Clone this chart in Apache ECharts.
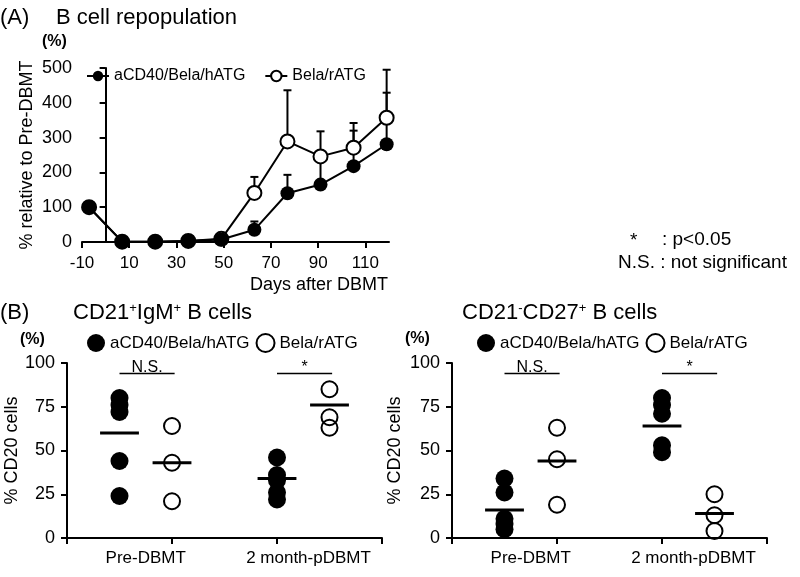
<!DOCTYPE html>
<html>
<head>
<meta charset="utf-8">
<script src="https://cdn.jsdelivr.net/npm/echarts@6/dist/echarts.min.js"></script>
<style>html,body{margin:0;padding:0;background:#fff}#c{width:800px;height:577px}</style>
</head>
<body>
<div id="c"></div>
<script>
// ---------- Panel A data ----------
const daysA = [-7, 7, 21, 35, 49, 63, 77, 91, 105, 119];
const filledA = [100, 1, 1, 3, 7, 35, 140, 165, 218, 281];
const filledTopA = [null, null, null, null, null, 59, 193, 250, 320, 429];
const openA = [100, 1, 1, 3, 9, 141, 289, 246, 271, 357];
const openTopA = [null, null, null, null, null, 187, 436, 318, 342, 495];
const seriesNamesA = ['aCD40/Bela/hATG', 'Bela/rATG'];
const xTicksA = { min: -10, max: 120, interval: 20 };
const yTicksA = { min: 0, max: 500, interval: 100 };

// ---------- Panel B data ----------
const groupLabels = ['Pre-DBMT', '2 month-pDBMT'];
const filledX = [1, 4];
const openX = [2, 5];
const labelX = [1.5, 4.6];
// CD21+IgM+
const b1FilledPre = [80, 76, 72, 44, 24];
const b1OpenPre = [64, 43, 21];
const b1FilledPost = [46, 36, 33, 26, 22];
const b1OpenPost = [85, 69, 63];
const b1Means = [60, 43, 34, 76];
// CD21-CD27+
const b2FilledPre = [34, 26, 11, 8, 5];
const b2OpenPre = [63, 45, 19];
const b2FilledPost = [80, 76, 71, 53, 49];
const b2OpenPost = [25, 13, 4];
const b2Means = [16, 44, 64, 14];
// significance
const sigPairs = [[1, 2.05], [4, 5.05]];
const sigLevel = 94;
const sigLabels = ['N.S.', '*'];
const yTicksB = { min: 0, max: 100, interval: 25 };

const FONT = "'Liberation Sans', Arial, Helvetica, sans-serif";
const MEAN_HALF = 0.37;
const chart = echarts.init(document.getElementById('c'), null, { renderer: 'canvas' });

function errRender(params, api) {
  const x = api.value(0), y = api.value(1), top = api.value(2);
  const p0 = api.coord([x, y]), p1 = api.coord([x, top]);
  return { type: 'group', children: [
    { type: 'line', shape: { x1: p0[0], y1: p0[1], x2: p1[0], y2: p1[1] }, style: { stroke: '#000', lineWidth: 2 } },
    { type: 'line', shape: { x1: p1[0] - 4, y1: p1[1], x2: p1[0] + 4, y2: p1[1] }, style: { stroke: '#000', lineWidth: 2 } }
  ] };
}
function meanRender(params, api) {
  const x = api.value(0), y = api.value(1);
  const a = api.coord([x - MEAN_HALF, y]), b = api.coord([x + MEAN_HALF, y]);
  return { type: 'line', shape: { x1: a[0], y1: a[1], x2: b[0], y2: b[1] }, style: { stroke: '#000', lineWidth: 3 } };
}
function sigRender(params, api) {
  const x1 = api.value(0), x2 = api.value(1), y = api.value(2);
  const a = api.coord([x1, y]), b = api.coord([x2, y]);
  return { type: 'group', children: [
    { type: 'line', shape: { x1: a[0], y1: a[1], x2: b[0], y2: b[1] }, style: { stroke: '#000', lineWidth: 1.5 } },
    { type: 'text', x: (a[0] + b[0]) / 2, y: a[1] + 2, style: { text: sigLabels[params.dataIndex], fontSize: 16, fontFamily: FONT, fill: '#000', align: 'center', verticalAlign: 'bottom' } }
  ] };
}

function axisCommon() {
  return {
    axisLine: { show: true, lineStyle: { color: '#000', width: 2 } },
    axisTick: { show: true, length: 6, lineStyle: { color: '#000', width: 2 } },
    splitLine: { show: false }
  };
}
function xAxisB(gi) {
  return Object.assign(axisCommon(), {
    gridIndex: gi, type: 'value', min: 0, max: 6, interval: 2,
    axisLabel: {
      customValues: labelX, fontSize: 17, color: '#000', margin: 12, fontFamily: FONT,
      formatter: v => { const i = labelX.findIndex(x => Math.abs(x - v) < 1e-6); return i >= 0 ? groupLabels[i] : ''; }
    }
  });
}
function yAxisB(gi, gap) {
  return Object.assign(axisCommon(), {
    gridIndex: gi, type: 'value', min: yTicksB.min, max: yTicksB.max, interval: yTicksB.interval,
    axisLabel: { fontSize: 18, color: '#000', margin: 12, fontFamily: FONT },
    name: '% CD20 cells', nameLocation: 'middle', nameRotate: 90, nameGap: gap,
    nameTextStyle: { fontSize: 18, color: '#000', fontFamily: FONT }
  });
}
const pts = (arr, x) => arr.map(v => [x, v]);
function panelB(prefix, gi, fPre, oPre, fPost, oPost, means) {
  return [
    { name: prefix + 'f', type: 'scatter', xAxisIndex: gi, yAxisIndex: gi, z: 2,
      data: pts(fPre, filledX[0]).concat(pts(fPost, filledX[1])),
      symbol: 'circle', symbolSize: 18, itemStyle: { color: '#000', opacity: 1 } },
    { name: prefix + 'o', type: 'scatter', xAxisIndex: gi, yAxisIndex: gi, z: 2,
      data: pts(oPre, openX[0]).concat(pts(oPost, openX[1])),
      symbol: 'circle', symbolSize: 16, itemStyle: { color: 'rgba(255,255,255,0)', borderColor: '#000', borderWidth: 2, opacity: 1 } },
    { name: prefix + 'mean', type: 'custom', xAxisIndex: gi, yAxisIndex: gi, z: 4, renderItem: meanRender,
      data: [[filledX[0], means[0]], [openX[0], means[1]], [filledX[1], means[2]], [openX[1], means[3]]] },
    { name: prefix + 'sig', type: 'custom', xAxisIndex: gi, yAxisIndex: gi, z: 4, renderItem: sigRender,
      encode: { x: [0, 1], y: 2 },
      data: sigPairs.map(p => [p[0], p[1], sigLevel]) }
  ];
}
function legendB(prefix, left) {
  return {
    left: left, top: 328, orient: 'horizontal', itemWidth: 18, itemHeight: 18, itemGap: 6,
    icon: 'circle', selectedMode: false,
    textStyle: { fontSize: 17, color: '#000', fontFamily: FONT },
    formatter: n => n.endsWith('f') ? seriesNamesA[0] : seriesNamesA[1],
    data: [
      { name: prefix + 'f', itemStyle: { color: '#000', borderWidth: 0, opacity: 1 } },
      { name: prefix + 'o', itemStyle: { color: 'rgba(255,255,255,0)', borderColor: '#000', borderWidth: 2 } }
    ]
  };
}
const txt = (x, y, text, size, extra) => ({ type: 'text', x: x, y: y, silent: true,
  style: Object.assign({ text: text, fontSize: size, fontFamily: FONT, fill: '#000', align: 'left', verticalAlign: 'middle' }, extra || {}) });
const sup = { sup: { fontSize: 13, fontFamily: FONT, verticalAlign: 'top', fill: '#000' } };

const option = {
  animation: false,
  backgroundColor: '#fff',
  textStyle: { fontFamily: FONT, color: '#000' },
  grid: [
    { left: 82, top: 68, width: 307, height: 174 },
    { left: 67, top: 363, width: 315, height: 175 },
    { left: 452, top: 363, width: 315, height: 175 }
  ],
  legend: [
    { left: 81, top: 63, itemWidth: 22, itemHeight: 13, itemGap: 19, selectedMode: false,
      textStyle: { fontSize: 16, color: '#000', fontFamily: FONT }, data: seriesNamesA },
    legendB('b1', 82),
    legendB('b2', 472)
  ],
  xAxis: [
    Object.assign(axisCommon(), {
      gridIndex: 0, type: 'value', min: xTicksA.min, max: xTicksA.max, interval: xTicksA.interval,
      axisLabel: { fontSize: 17, color: '#000', margin: 13, fontFamily: FONT },
      name: 'Days after DBMT', nameLocation: 'end', nameGap: -1,
      nameTextStyle: { fontSize: 18, color: '#000', align: 'right', verticalAlign: 'top', padding: [34, 0, 0, 0], fontFamily: FONT }
    }),
    xAxisB(1), xAxisB(2)
  ],
  yAxis: [
    Object.assign(axisCommon(), {
      gridIndex: 0, type: 'value', min: yTicksA.min, max: yTicksA.max, interval: yTicksA.interval,
      axisLabel: { fontSize: 18, color: '#000', margin: 10, fontFamily: FONT },
      name: '% relative to Pre-DBMT', nameLocation: 'middle', nameRotate: 90, nameGap: 46,
      nameTextStyle: { fontSize: 18, color: '#000', fontFamily: FONT }
    }),
    yAxisB(1, 46), yAxisB(2, 48)
  ],
  series: [
    { name: 'errF', type: 'custom', xAxisIndex: 0, yAxisIndex: 0, z: 1, renderItem: errRender,
      data: daysA.map((d, i) => [d, filledA[i], filledTopA[i]]).filter(r => r[2] != null) },
    { name: 'errO', type: 'custom', xAxisIndex: 0, yAxisIndex: 0, z: 1, renderItem: errRender,
      data: daysA.map((d, i) => [d, openA[i], openTopA[i]]).filter(r => r[2] != null) },
    { name: seriesNamesA[1], type: 'line', xAxisIndex: 0, yAxisIndex: 0, z: 2,
      data: daysA.map((d, i) => [d, openA[i]]), symbol: 'circle', symbolSize: 14, showAllSymbol: true,
      lineStyle: { color: '#000', width: 2 }, itemStyle: { color: '#fff', borderColor: '#000', borderWidth: 2 } },
    { name: seriesNamesA[0], type: 'line', xAxisIndex: 0, yAxisIndex: 0, z: 3,
      data: daysA.map((d, i) => [d, filledA[i]]), symbol: 'circle', symbolSize: 14, showAllSymbol: true,
      lineStyle: { color: '#000', width: 2 }, itemStyle: { color: '#000' } }
  ].concat(panelB('b1', 1, b1FilledPre, b1OpenPre, b1FilledPost, b1OpenPost, b1Means))
   .concat(panelB('b2', 2, b2FilledPre, b2OpenPre, b2FilledPost, b2OpenPost, b2Means)),
  graphic: [
    txt(0, 18, '(A)', 22),
    txt(56, 18, 'B cell repopulation', 22),
    txt(42, 42, '(%)', 16, { fontWeight: 'bold' }),
    txt(0, 313, '(B)', 22),
    txt(73, 313, 'CD21{sup|+}IgM{sup|+} B cells', 22, { rich: sup }),
    txt(20, 340, '(%)', 16, { fontWeight: 'bold' }),
    txt(462, 313, 'CD21{sup|-}CD27{sup|+} B cells', 22, { rich: sup }),
    txt(405, 339, '(%)', 16, { fontWeight: 'bold' }),
    txt(630, 241, '*', 19),
    txt(662, 240, ': p<0.05', 19),
    txt(618, 263, 'N.S. : not significant', 19)
  ]
};
chart.setOption(option);
</script>
</body>
</html>
